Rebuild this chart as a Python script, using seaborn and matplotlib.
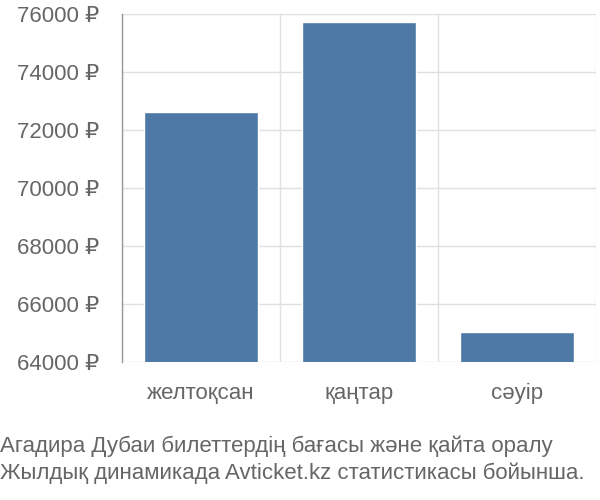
import matplotlib
matplotlib.use("Agg")
import matplotlib.pyplot as plt
import seaborn as sns
import pandas as pd

# Data
months = ["желтоқсан", "қаңтар", "сәуір"]
prices = [72620, 75710, 65030]
y_ticks = [64000, 66000, 68000, 70000, 72000, 74000, 76000]
footer_1 = "Агадира Дубаи билеттердің бағасы және қайта оралу"
footer_2 = "Жылдық динамикада Avticket.kz статистикасы бойынша."

df = pd.DataFrame({"month": months, "price": prices})

sns.set_style("white")
plt.rcParams["font.family"] = ["Liberation Sans", "DejaVu Sans"]

fig = plt.figure(figsize=(6, 5), dpi=100)
ax = fig.add_axes([122 / 600, 1 - 362 / 500, 474 / 600, 348 / 500])

sns.barplot(data=df, x="month", y="price", color="#4e79a7", saturation=1,
            width=0.72, ax=ax, zorder=3)

ax.set_ylim(64000, 76000)
ax.set_xlim(-0.5, 2.5)
ax.set_yticks(y_ticks)
ax.set_yticklabels([f"{v} ₽" for v in y_ticks])
ax.set_xlabel("")
ax.set_ylabel("")

# grid lines: horizontal at ticks, vertical at category boundaries
ax.set_xticks([-0.5, 0.5, 1.5, 2.5], minor=True)
ax.grid(axis="y", which="major", color="#e0e0e0", linewidth=1, zorder=0)
ax.grid(axis="x", which="minor", color="#e0e0e0", linewidth=1, zorder=0)

ax.tick_params(axis="y", length=14.4, width=1, color="#e0e0e0", pad=2,
               labelsize=16, labelcolor="#666666")
ax.tick_params(axis="x", which="major", length=0, pad=15,
               labelsize=16, labelcolor="#666666")
ax.tick_params(axis="x", which="minor", length=13, width=1, color="#e0e0e0")
ax.xaxis.get_minor_ticks()[0].tick1line.set_color("#999999")

for s in ["top", "right", "bottom"]:
    ax.spines[s].set_visible(False)
ax.spines["left"].set_color("#999999")
ax.spines["left"].set_linewidth(1)

fig.text(0.0, 1 - 446 / 500, footer_1, fontsize=16, color="#666666",
         ha="left", va="center")
fig.text(0.0, 1 - 473 / 500, footer_2, fontsize=16, color="#666666",
         ha="left", va="center")

fig.savefig("out.png", dpi=100)
